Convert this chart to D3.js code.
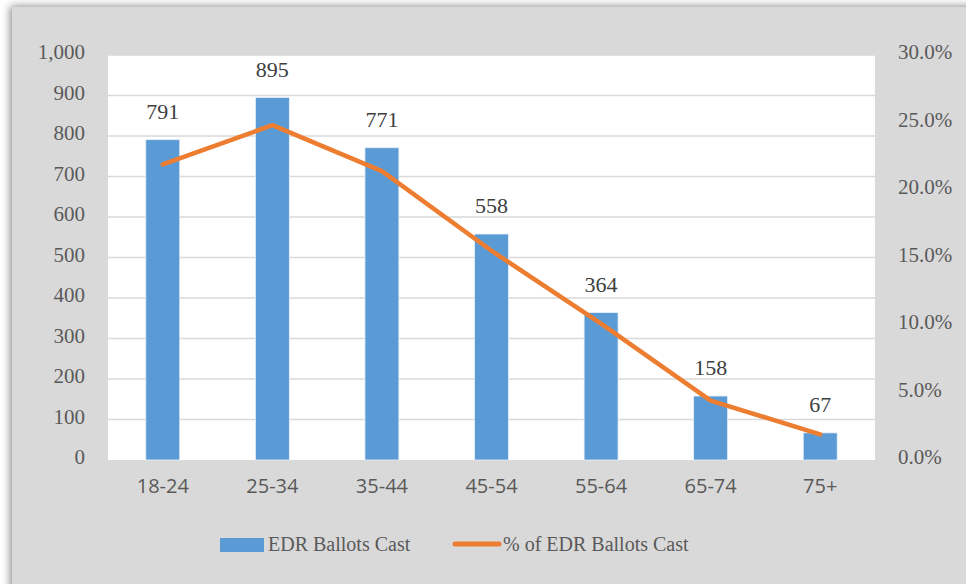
<!DOCTYPE html>
<html>
<head>
<meta charset="utf-8">
<script src="https://cdn.jsdelivr.net/npm/d3@7"></script>
<style>
  body { margin: 0; background: #fff; }
  svg { display: block; }
</style>
</head>
<body>
<script>
var ageGroups = ['18-24', '25-34', '35-44', '45-54', '55-64', '65-74', '75+'];
var ballotsCast = [791, 895, 771, 558, 364, 158, 67];
var pctCast = [21.9, 24.8, 21.4, 15.5, 10.1, 4.4, 1.9];
var countTicks = [0, 100, 200, 300, 400, 500, 600, 700, 800, 900, 1000];
var pctTicks = [0, 5, 10, 15, 20, 25, 30];
var seriesNames = ['EDR Ballots Cast', '% of EDR Ballots Cast'];

var width = 966, height = 584;
var plotL = 108, plotR = 875, plotT = 55, plotB = 460;
var serif = "'Liberation Serif', 'DejaVu Serif', serif";
var sans = "'Open Sans', 'Liberation Sans', sans-serif";

var svg = d3.select('body')
  .append('svg')
  .attr('width', width)
  .attr('height', height);

// drop shadow on the chart frame
var defs = svg.append('defs');
var f = defs.append('filter').attr('id', 'shadow')
  .attr('x', '-5%').attr('y', '-5%').attr('width', '110%').attr('height', '110%');
f.append('feGaussianBlur').attr('in', 'SourceAlpha').attr('stdDeviation', 4);
f.append('feOffset').attr('dx', -2).attr('dy', -1).attr('result', 'b');
f.append('feComponentTransfer').append('feFuncA').attr('type', 'linear').attr('slope', 0.45);
var m = f.append('feMerge');
m.append('feMergeNode');
m.append('feMergeNode').attr('in', 'SourceGraphic');

svg.append('rect')
  .attr('x', 12).attr('y', 7)
  .attr('width', 980).attr('height', 600)
  .attr('fill', '#d9d9d9')
  .attr('filter', 'url(#shadow)');

svg.append('rect')
  .attr('x', plotL).attr('y', plotT)
  .attr('width', plotR - plotL).attr('height', plotB - plotT)
  .attr('fill', '#ffffff');

var x = d3.scaleBand()
  .domain(ageGroups)
  .range([plotL, plotR])
  .paddingInner(0.69)
  .paddingOuter(0.345);

var y = d3.scaleLinear().domain([0, 1000]).range([plotB, plotT]);
var y2 = d3.scaleLinear().domain([0, 30]).range([plotB, plotT]);

// gridlines
svg.append('g').selectAll('line')
  .data(countTicks.slice(1))
  .enter().append('line')
  .attr('x1', plotL).attr('x2', plotR)
  .attr('y1', function(d) { return y(d); })
  .attr('y2', function(d) { return y(d); })
  .attr('stroke', '#d9d9d9')
  .attr('stroke-width', 1.5);

// left axis
var yAxis = d3.axisLeft(y).tickValues(countTicks).tickSize(0).tickPadding(0)
  .tickFormat(d3.format(','));
var ga = svg.append('g').attr('transform', 'translate(85,-3)').call(yAxis);
ga.select('.domain').remove();
ga.selectAll('text').attr('font-family', serif).attr('font-size', 21).attr('fill', '#595959');

// right axis
var y2Axis = d3.axisRight(y2).tickValues(pctTicks).tickSize(0).tickPadding(0)
  .tickFormat(function(d) { return d3.format('.1f')(d) + '%'; });
var gb = svg.append('g').attr('transform', 'translate(898,-3)').call(y2Axis);
gb.select('.domain').remove();
gb.selectAll('text').attr('font-family', serif).attr('font-size', 21).attr('fill', '#595959');

// bottom axis
var xAxis = d3.axisBottom(x).tickSize(0).tickPadding(0);
var gx = svg.append('g').attr('transform', 'translate(0,479)').call(xAxis);
gx.select('.domain').remove();
gx.selectAll('text').attr('font-family', sans).attr('font-size', 20).attr('fill', '#595959');

// bars
svg.append('g').selectAll('rect')
  .data(ballotsCast)
  .enter().append('rect')
  .attr('x', function(d, i) { return x(ageGroups[i]); })
  .attr('y', function(d) { return y(d); })
  .attr('width', x.bandwidth())
  .attr('height', function(d) { return plotB - y(d); })
  .attr('fill', '#5b9bd5')
  .attr('stroke', '#e8f0f9')
  .attr('stroke-width', 0.8);

// line
var line = d3.line()
  .x(function(d, i) { return x(ageGroups[i]) + x.bandwidth() / 2; })
  .y(function(d) { return y2(d); });

svg.append('path')
  .attr('d', line(pctCast))
  .attr('fill', 'none')
  .attr('stroke', '#ed7d31')
  .attr('stroke-width', 4.5)
  .attr('stroke-linejoin', 'round')
  .attr('stroke-linecap', 'round');

// data labels
svg.append('g').selectAll('text')
  .data(ballotsCast)
  .enter().append('text')
  .attr('x', function(d, i) { return x(ageGroups[i]) + x.bandwidth() / 2; })
  .attr('y', function(d) { return y(d) - 21; })
  .attr('text-anchor', 'middle')
  .attr('font-family', serif)
  .attr('font-size', 22)
  .attr('fill', '#404040')
  .text(function(d) { return d; });

// legend
var lg = svg.append('g');
lg.append('rect')
  .attr('x', 220).attr('y', 538).attr('width', 44).attr('height', 14)
  .attr('fill', '#5b9bd5');
lg.append('text')
  .attr('x', 268).attr('y', 551)
  .attr('font-family', serif).attr('font-size', 20).attr('fill', '#595959')
  .text(seriesNames[0]);
lg.append('line')
  .attr('x1', 455).attr('x2', 499).attr('y1', 544).attr('y2', 544)
  .attr('stroke', '#ed7d31').attr('stroke-width', 5).attr('stroke-linecap', 'round');
lg.append('text')
  .attr('x', 503).attr('y', 551)
  .attr('font-family', serif).attr('font-size', 20).attr('fill', '#595959')
  .text(seriesNames[1]);
</script>
</body>
</html>
